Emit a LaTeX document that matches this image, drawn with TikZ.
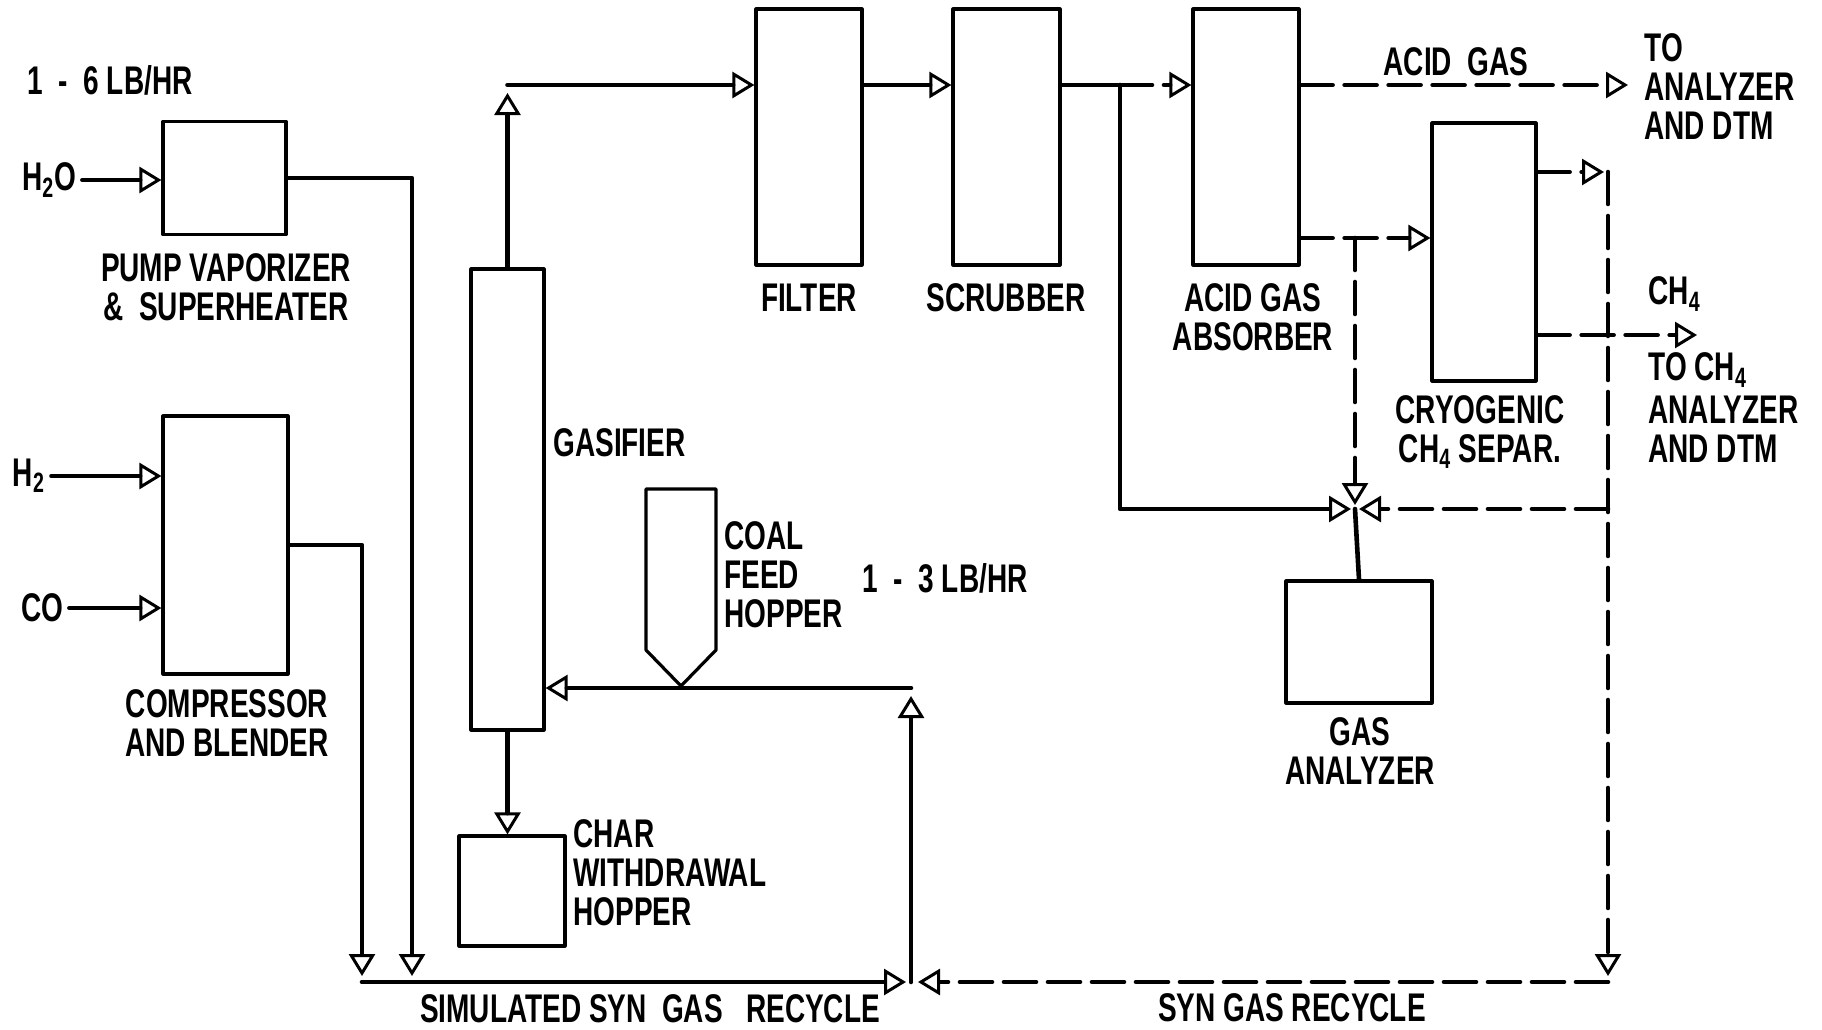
\documentclass[tikz,border=0pt]{standalone}
\usepackage{fontspec}
\setmainfont{Liberation Sans}[FakeStretch=0.7]
\usetikzlibrary{arrows.meta}

\begin{document}
\begin{tikzpicture}[x=0.5pt, y=-0.5pt, line cap=round, line join=round,
  font=\fontsize{20pt}{19.5pt}\selectfont\bfseries,
  unit/.style={draw, line width=1.6pt, inner sep=0pt},
  pipe/.style={line width=2.3pt},
  flow/.style={pipe, -{Triangle[open, length=11pt, width=13pt, line width=1.5pt]}},
  dflow/.style={flow, dash pattern=on 16pt off 6pt},
  lbl/.style={inner sep=0pt, align=center},
  lbll/.style={inner sep=0pt, align=left, anchor=west}]
  \fill[white] (0,0) rectangle (1822,1029);
  \useasboundingbox (0,0) rectangle (1822,1029);

  % process units
  \node[unit, minimum width=61.5pt, minimum height=56.5pt] (pump) at (224.5,178) {};
  \node[unit, minimum width=62.5pt, minimum height=129pt] (comp) at (225.5,545) {};
  \node[unit, minimum width=36.5pt, minimum height=230.5pt] (gas) at (507.5,499.5) {};
  \node[unit, minimum width=53pt, minimum height=55pt] (char) at (512,891) {};
  \node[unit, minimum width=53pt, minimum height=128pt] (filter) at (809,137) {};
  \node[unit, minimum width=53.5pt, minimum height=128pt] (scrub) at (1006.5,137) {};
  \node[unit, minimum width=53pt, minimum height=128pt] (absorb) at (1246,137) {};
  \node[unit, minimum width=52pt, minimum height=129pt] (cryo) at (1484,252) {};
  \node[unit, minimum width=73pt, minimum height=61pt] (ana) at (1359,642) {};

  % coal feed hopper
  \draw[line width=1.6pt] (646,489) -- (716,489) -- (716,650) -- (681,686) -- (646,650) -- cycle;
  \coordinate (coaltip) at (681,686);

  % junction points
  \coordinate (cdrop) at (362,982);
  \coordinate (pdrop) at (412,982);
  \coordinate (simR) at (906,982);
  \coordinate (riseB) at (911,982);
  \coordinate (feedR) at (911,688);
  \coordinate (gtop) at (507.5,85);
  \coordinate (stee) at (1120,85);
  \coordinate (acid) at (1628,85);
  \coordinate (atee) at (1355,238);
  \coordinate (mix) at (1355,509);
  \coordinate (rtop) at (1608,172);
  \coordinate (rbot) at (1608,982);
  \coordinate (recL) at (918,982);
  \coordinate (ch4) at (1697,335);

  % feeds
  \node[lbl] (rate) at (110,80) {1\ \ -\ \ 6\ LB/HR};
  \node[lbl] (h2o) at (49,180) {H\textsubscript{2}O};
  \node[lbl] (h2) at (29,476) {H\textsubscript{2}};
  \node[lbl] (co) at (42,608) {CO};
  \draw[flow, shorten <=3pt] (h2o.east) -- (h2o -| pump.west);
  \draw[flow, shorten <=3pt] (h2.east) -- (h2 -| comp.west);
  \draw[flow, shorten <=3pt] (co.east) -- (co -| comp.west);

  % simulated recycle
  \draw[flow, shorten >=3pt] (pump.east) -| (pdrop);
  \draw[flow, shorten >=3pt] (comp.east) -| (cdrop);
  \draw[flow] (cdrop) -- (simR);
  \draw[flow, shorten >=4pt] (riseB) -- (feedR);
  \draw[flow] (feedR) -- (feedR -| gas.east);

  % gasifier train
  \draw[flow, shorten >=4pt] (gas.north) -- (gtop);
  \draw[flow] (gtop) -- (gtop -| filter.west);
  \draw[flow] (gtop -| filter.east) -- (gtop -| scrub.west);
  \draw[pipe] (gtop -| scrub.east) -- (stee);
  \draw[dflow] (stee) -- (stee -| absorb.west);
  \draw[flow] (gas.south) -- (gas.south |- char.north);
  \draw[flow, shorten >=2pt] (stee) |- (mix);

  % gas cleanup and analysis
  \draw[dflow] (acid -| absorb.east) -- (acid);
  \draw[dflow] (atee -| absorb.east) -- (atee -| cryo.west);
  \draw[dflow, shorten >=2pt] (atee) -- (mix);
  \draw[dflow, shorten >=2pt] (rtop -| cryo.east) -- (rtop);
  \draw[dflow, shorten >=3pt] (rtop) -- (rbot);
  \draw[dflow] (rbot) -- (recL);
  \draw[dflow, shorten >=2pt] (rtop |- mix) -- (mix);
  \draw[dflow] (ch4 -| cryo.east) -- (ch4);
  \draw[pipe] (mix) -- (ana.north);

  % labels
  \node[lbl] (pumpt) at (226,287) {PUMP VAPORIZER\\\&\ \ SUPERHEATER};
  \node[lbl] (compt) at (227,723) {COMPRESSOR\\AND BLENDER};
  \node[lbll] (gast) at (553,443) {GASIFIER};
  \node[lbll] (coalt) at (724,575) {COAL\\FEED\\HOPPER};
  \node[lbl] (coalrate) at (945,578) {1\ \ -\ \ 3\ LB/HR};
  \node[lbll] (chart) at (573,873) {CHAR\\WITHDRAWAL\\HOPPER};
  \node[lbl] (filtert) at (809,298) {FILTER};
  \node[lbl] (scrubt) at (1006,298) {SCRUBBER};
  \node[lbl] (absorbt) at (1253,317) {ACID GAS\\ABSORBER};
  \node[lbl] (acidt) at (1456,62) {ACID\ \ GAS};
  \node[lbll] (tot) at (1644,87) {TO\\ANALYZER\\AND DTM};
  \node[lbl] (cryot) at (1480,432) {CRYOGENIC\\CH\textsubscript{4} SEPAR.};
  \node[lbll] (ch4t) at (1648,294) {CH\textsubscript{4}};
  \node[lbll] (toch4t) at (1648,408) {TO CH\textsubscript{4}\\[2pt]ANALYZER\\AND DTM};
  \node[lbl] (anat) at (1360,751) {GAS\\ANALYZER};
  \node[lbl] (simt) at (650,1009) {SIMULATED SYN\ \ GAS\ \ \ RECYCLE};
  \node[lbl] (synt) at (1292,1008) {SYN GAS RECYCLE};
\end{tikzpicture}
\end{document}
